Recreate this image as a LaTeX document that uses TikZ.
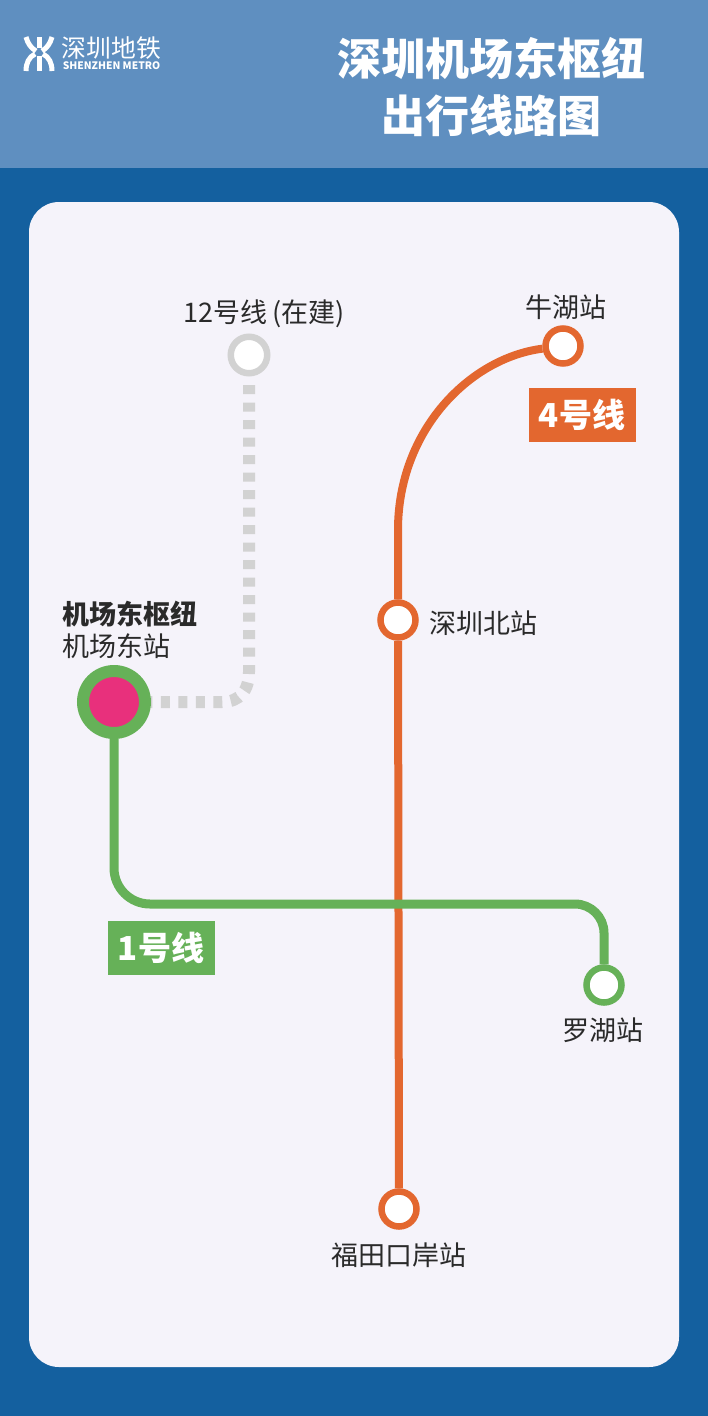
\documentclass[tikz,border=0pt]{standalone}
\usepackage{fontspec}
\newfontfamily\cjk{Noto Sans CJK SC}
\definecolor{headblue}{HTML}{5F8FC0}
\definecolor{deepblue}{HTML}{14609F}
\definecolor{panelwhite}{HTML}{F5F3FA}
\definecolor{lineorange}{HTML}{E3672F}
\definecolor{linegreen}{HTML}{66B158}
\definecolor{linegray}{HTML}{D2D2D2}
\definecolor{hubpink}{HTML}{E8307C}
\definecolor{labelink}{HTML}{2A2A2A}
\tikzset{
  stationname/.style={font=\cjk\fontsize{27}{30}\selectfont, text=labelink, inner sep=0pt},
  titletext/.style={font=\cjk\bfseries\fontsize{44}{50}\selectfont, text=white, inner sep=0pt},
  linetag/.style={font=\cjk\bfseries\fontsize{33}{36}\selectfont, text=white, inner sep=0pt,
    minimum height=54, minimum width=107},
  stop/.style={circle, draw=#1, line width=6.5, fill=white, minimum size=35, inner sep=0pt},
  orangeline/.style={draw=lineorange, line width=8},
  greenline/.style={draw=linegreen, line width=9},
  grayline/.style={draw=linegray, line width=12, dash pattern=on 9 off 8.5, dash phase=9},
}
\begin{document}
\begin{tikzpicture}[x=1pt, y=-1pt]
  \useasboundingbox (0,0) rectangle (708,1416);
  % backdrop
  \fill[deepblue] (0,0) rectangle (708,1416);
  \fill[headblue] (0,0) rectangle (708,168);
  \fill[panelwhite, rounded corners=30] (29,202) rectangle (679,1367);

  % logo
  \begin{scope}[draw=white, line width=5]
    \draw (26,37) .. controls (28,44) and (31,48) .. (36,51);
    \draw (52,37) .. controls (50,44) and (47,48) .. (42,51);
    \draw (39,37) -- (39,48);
    \draw (39,56) -- (39,71);
    \draw (35,54) .. controls (29,57) and (26,63) .. (26,71);
    \draw (43,54) .. controls (49,57) and (52,63) .. (52,71);
  \end{scope}
  \node[font=\cjk\fontsize{24.8}{26}\selectfont, text=white, inner sep=0pt] (logocn) at (111.5,48) {深圳地铁};
  \node[font=\cjk\bfseries\fontsize{10.3}{11}\selectfont, text=white, inner sep=0pt] (logoen) at (111.5,66) {SHENZHEN METRO};

  % title
  \node[titletext] (titleone) at (491,58) {深圳机场东枢纽};
  \node[titletext] (titletwo) at (491,116) {出行线路图};

  % stations
  \node[stop=lineorange] (niuhu) at (563,346) {};
  \node[stop=lineorange] (szbei) at (398,620) {};
  \node[stop=lineorange] (futian) at (399,1209) {};
  \node[stop=linegreen] (luohu) at (604,985) {};
  \node[stop=linegray, minimum size=36.5] (line12) at (249,355) {};
  \node[circle, fill=hubpink, draw=linegreen, line width=12, minimum size=62, inner sep=0pt] (hub) at (114,702) {};
  \coordinate (turnorange) at (398,530);
  \coordinate (crossgreen) at (359,904);
  \coordinate (turngray) at (249,672);
  \coordinate (endgray) at (222,702);

  % lines
  \draw[orangeline] (futian) -- (szbei);
  \draw[orangeline] (szbei) -- (turnorange) .. controls (398,430) and (470,358) .. (niuhu);
  \draw[greenline, rounded corners=36] (hub) |- (crossgreen) [rounded corners=29] -| (luohu);
  \draw[grayline] (line12) -- (turngray) .. controls (249,690) and (240,702) .. (endgray) -- (hub);

  % labels
  \node[stationname] (namenewline) at (264,314) {12号线\,(在建)};
  \node[stationname] (nameniuhu) at (566,307) {牛湖站};
  \node[stationname] (nameszbei) at (483,623) {深圳北站};
  \node[stationname] (nameluohu) at (603,1030) {罗湖站};
  \node[stationname] (namefutian) at (399,1255) {福田口岸站};
  \node[stationname, font=\cjk\bfseries\fontsize{27}{30}\selectfont] (namehub) at (130,614) {机场东枢纽};
  \node[stationname] (namehubstop) at (116.5,646) {机场东站};

  % line tags
  \node[linetag, fill=lineorange] (tagfour) at (582,414.5) {4号线};
  \node[linetag, fill=linegreen] (tagone) at (161,948) {1号线};
\end{tikzpicture}
\end{document}
